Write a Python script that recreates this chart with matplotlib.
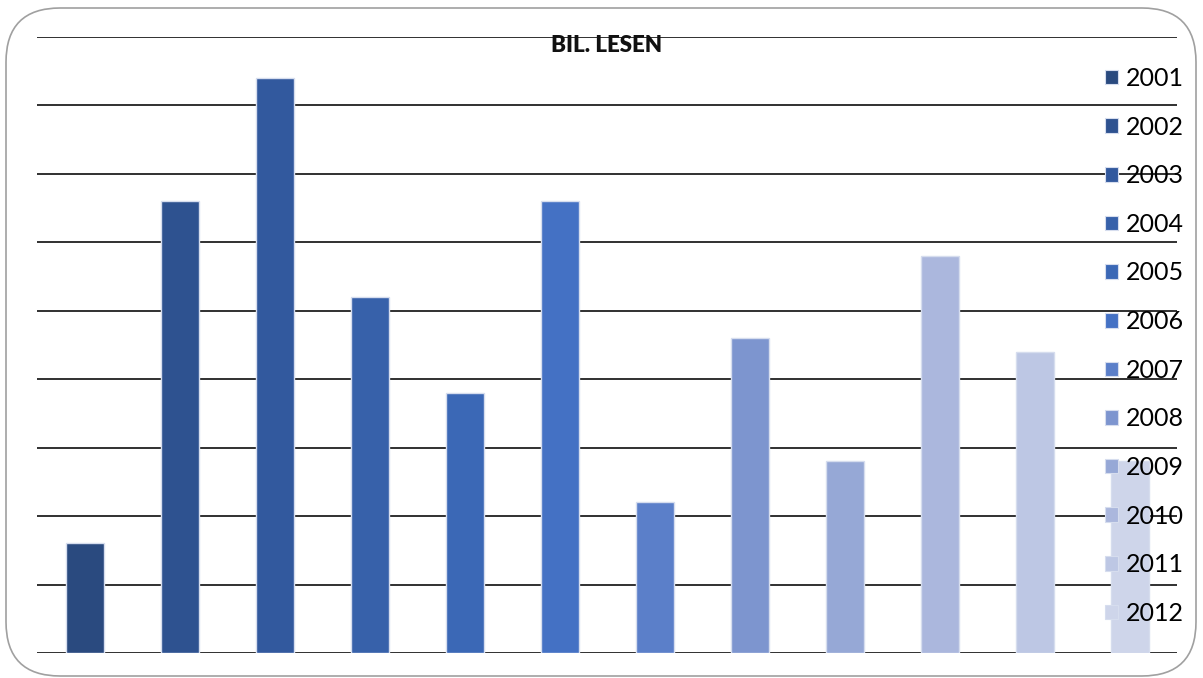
import matplotlib
matplotlib.use("Agg")
import matplotlib.pyplot as plt
from matplotlib.patches import FancyBboxPatch, Patch

years = ["2001", "2002", "2003", "2004", "2005", "2006",
         "2007", "2008", "2009", "2010", "2011", "2012"]
values = [1.6, 6.6, 8.4, 5.2, 3.8, 6.6, 2.2, 4.6, 2.8, 5.8, 4.4, 2.8]
colors = ["#2A4A7F", "#2E5290", "#32599E", "#3761AA", "#3B68B6", "#4471C4",
          "#5B7FC9", "#7D95CF", "#96A8D6", "#ABB7DD", "#BDC7E4", "#CED5EA"]
title = "BIL. LESEN"

plt.rcParams['font.family'] = ['Lato', 'DejaVu Sans']

W, H = 1203, 678
fig = plt.figure(figsize=(W / 100, H / 100), dpi=100)

# rounded border
border = FancyBboxPatch((6 / W, 2 / H), 1190 / W, 668 / H,
                        boxstyle="round,pad=0,rounding_size=0.045",
                        transform=fig.transFigure, facecolor="none",
                        edgecolor="#A0A0A0", linewidth=1.2, zorder=0,
                        mutation_aspect=W / H)
fig.patches.append(border)

ax = fig.add_axes([37 / W, (H - 653) / H, (1177 - 37) / W, (653 - 37) / H])
ax.set_zorder(1)
ax.set_facecolor("none")
x = list(range(len(years)))
ax.bar(x, values, width=0.4, color=colors, edgecolor="#D6DDEE",
       linewidth=1.0, zorder=3)
ax.set_xlim(-0.5, len(years) - 0.5)
ax.set_ylim(0, 9)
ax.set_yticks(range(0, 10))
ax.yaxis.grid(True, color="#202020", linewidth=1.3, zorder=0)
ax.set_axisbelow(True)
ax.tick_params(left=False, bottom=False, labelleft=False, labelbottom=False)
for s in ax.spines.values():
    s.set_visible(False)

fig.text(607 / W, 1 - 46 / H, title, ha="center", va="center",
         fontsize=16, fontweight="heavy", color="#111111", zorder=10)

handles = [Patch(facecolor=c, edgecolor="#D6DDEE", linewidth=0.8) for c in colors]
leg = fig.legend(handles, years, loc="upper left",
                 bbox_to_anchor=(1105 / W, 1 - 67 / H),
                 frameon=False, fontsize=18, handlelength=0.52,
                 handleheight=0.52, handletextpad=0.32, labelspacing=1.025,
                 borderpad=0, borderaxespad=0)
leg.set_zorder(10)

fig.savefig("out.png", dpi=100)
